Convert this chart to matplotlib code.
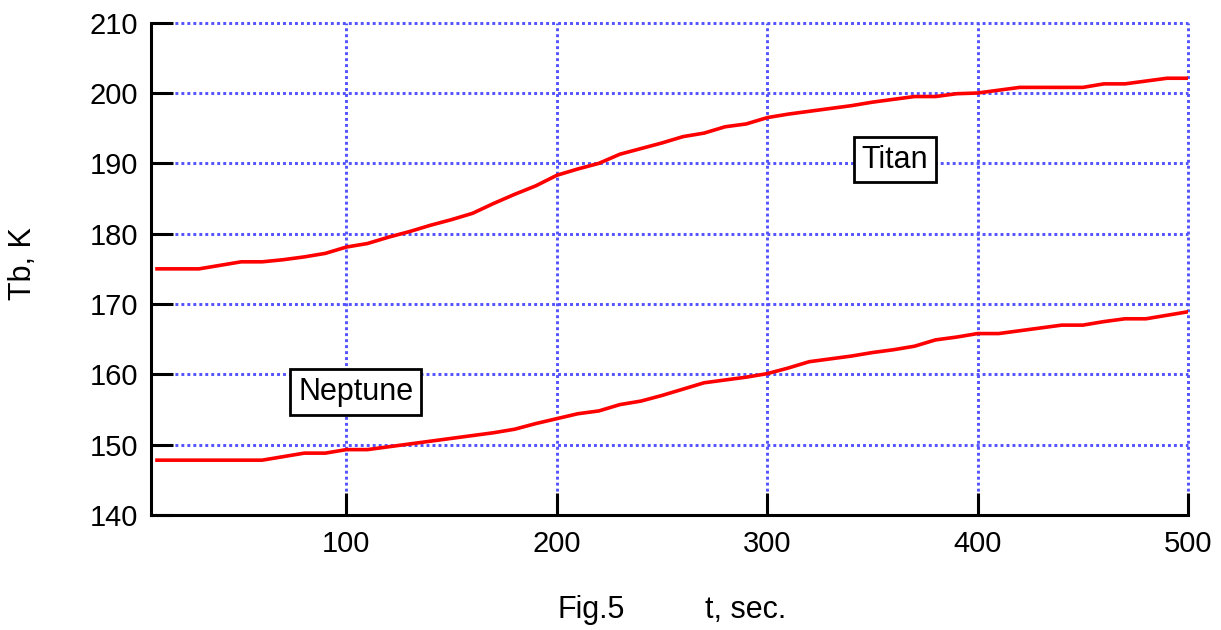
import matplotlib.pyplot as plt
import numpy as np

plt.rcParams['font.family'] = ['Liberation Sans', 'DejaVu Sans']

t = np.arange(10, 510, 10)

titan = [175.0, 175.0, 175.0, 175.5, 176.0, 176.0, 176.3, 176.7, 177.2, 178.1,
         178.6, 179.5, 180.3, 181.2, 182.0, 182.9, 184.3, 185.6, 186.8, 188.3,
         189.2, 190.0, 191.3, 192.1, 192.9, 193.8, 194.3, 195.2, 195.6, 196.5,
         197.0, 197.4, 197.8, 198.2, 198.7, 199.1, 199.5, 199.5, 199.9, 200.0,
         200.4, 200.8, 200.8, 200.8, 200.8, 201.3, 201.3, 201.7, 202.1, 202.1]

neptune = [147.8, 147.8, 147.8, 147.8, 147.8, 147.8, 148.3, 148.8, 148.8, 149.3,
           149.3, 149.7, 150.1, 150.5, 150.9, 151.3, 151.7, 152.2, 153.0, 153.7,
           154.4, 154.8, 155.7, 156.2, 157.0, 157.9, 158.8, 159.2, 159.6, 160.1,
           160.9, 161.8, 162.2, 162.6, 163.1, 163.5, 164.0, 164.9, 165.3, 165.8,
           165.8, 166.2, 166.6, 167.0, 167.0, 167.5, 167.9, 167.9, 168.4, 168.9]

fig = plt.figure(figsize=(12.21, 6.3), dpi=100)
ax = fig.add_axes([0.1234, 0.1825, 0.8496, 0.7815])

ax.plot(t, titan, color='red', lw=2.6, zorder=3)
ax.plot(t, neptune, color='red', lw=2.6, zorder=3)

ax.set_xlim(7, 500)
ax.set_ylim(140, 210)
ax.set_xticks([100, 200, 300, 400, 500])
ax.set_yticks(range(140, 211, 10))

ax.grid(True, color='#5252ff', ls=(0, (1, 1.05)), lw=2.1)
for gl in ax.get_xgridlines() + ax.get_ygridlines():
    gl.set_clip_on(False)
for s in ['top', 'right']:
    ax.spines[s].set_visible(False)
for s in ['left', 'bottom']:
    ax.spines[s].set_linewidth(2.2)
    ax.spines[s].set_zorder(3)
ax.tick_params(direction='in', length=16, width=2.2, labelsize=21)
ax.tick_params(axis='y', pad=9)
ax.tick_params(axis='x', pad=11)

box = dict(boxstyle='square,pad=0.25', fc='white', ec='black', lw=2)
ax.text(360.7, 190.5, 'Titan', fontsize=22, ha='center', va='center', bbox=box, zorder=4)
ax.text(104.4, 157.5, 'Neptune', fontsize=22, ha='center', va='center', bbox=box, zorder=4)

fig.text(0.019, 0.582, 'Tb, K', rotation=90, fontsize=22, ha='center', va='center')
fig.text(0.457, 0.031, 'Fig.5', fontsize=22, ha='left', va='center')
fig.text(0.577, 0.031, 't, sec.', fontsize=22, ha='left', va='center')

fig.savefig('out.png', dpi=100)
